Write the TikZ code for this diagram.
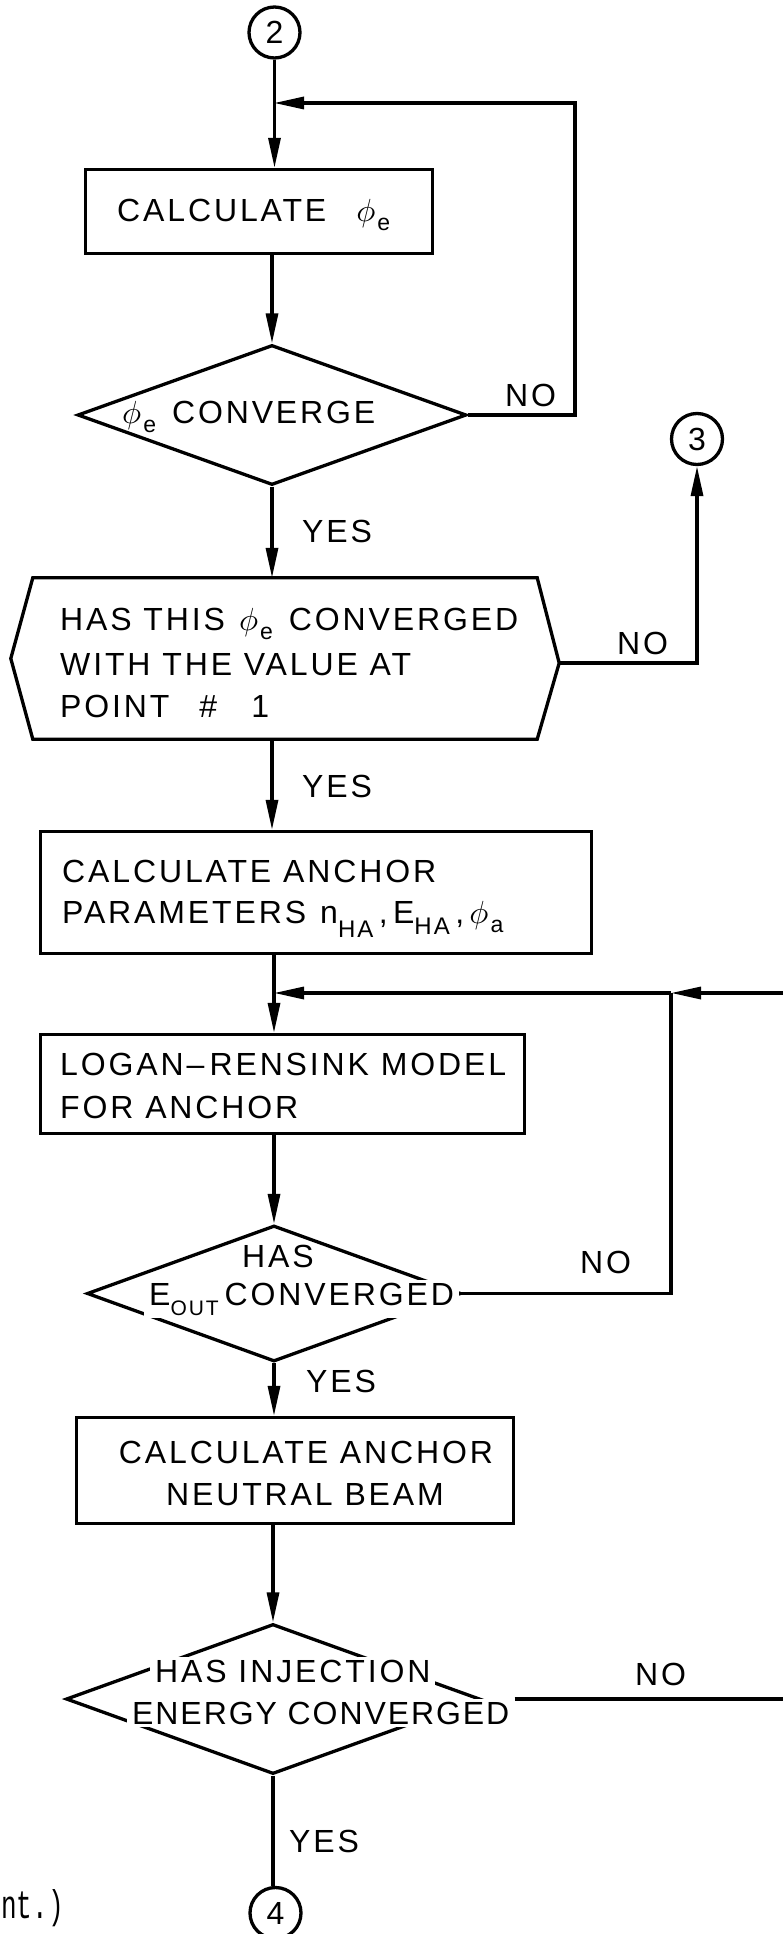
\documentclass[tikz,border=0pt]{standalone}
\usepackage{fontspec}
\usepackage{graphicx}
\setmainfont{Liberation Sans}[LetterSpace=9]
\newfontfamily\notefont{Liberation Mono}
\usetikzlibrary{arrows.meta,shapes.geometric,calc}

% lowered index: text, drop, size
\newcommand{\lowered}[3]{\raisebox{-#2}{\fontsize{#3}{#3}\selectfont #1}}
% phi drawn at the text size, with a small lowered index
\newcommand{\bigphi}{\scalebox{3.2}{\fontsize{10}{12}\selectfont$\phi$}}
\newcommand{\phiidx}[1]{\bigphi\hspace{2pt}\lowered{#1}{9pt}{23pt}}

\tikzset{
  every node/.style={font=\fontsize{32}{40}\selectfont, inner sep=0pt},
  stroke/.style={line width=3.3pt},
  procbox/.style={draw, stroke, rectangle},
  decide/.style={draw, stroke, diamond},
  connector/.style={draw, stroke, circle, minimum size=51pt},
  hold/.style={rectangle, draw=none},
  flow/.style={stroke, -{Triangle[length=30pt,width=12pt]}},
  link/.style={stroke},
  word/.style={anchor=base west},
  cutout/.style={anchor=base west, fill=white, inner xsep=5pt, inner ysep=3pt},
}

\begin{document}
\begin{tikzpicture}[x=1pt,y=-1pt]
\useasboundingbox (0,0) rectangle (783,1934);
\fill[white] (0,0) rectangle (783,1934);

% ---- shapes ----
\node[connector] (c2) at (274.5,32.5) {2};
\coordinate (j1) at (274,103);
\coordinate (r1) at (575,103);

\node[procbox, minimum width=347pt, minimum height=84pt] (b1) at (259,211.5) {};
\node[word] (tb1) at (117,222) {CALCULATE\hspace{30pt}\phiidx{e}};

\node[decide, minimum width=389pt, minimum height=140pt] (d1) at (272,415) {};
\node[word] (td1) at (122,423) {\phiidx{e}\hspace{16pt}CONVERGE};
\node[word] (no1) at (505,406) {NO};

\node[connector] (c3) at (697,439) {3};

\node[word] (yes1) at (302,542) {YES};

\node[hold, minimum width=504pt, minimum height=161pt] (hex) at (285,658.5) {};
\coordinate (hexR) at ([xshift=22pt,yshift=-4.5pt]hex.east);
\draw[stroke] (hex.north west) -- (hex.north east) -- (hexR)
  -- (hex.south east) -- (hex.south west) -- ([xshift=-22pt]hex.west) -- cycle;
\node[word] (th1) at (60,630) {HAS THIS\hspace{14pt}\phiidx{e}\hspace{16pt}CONVERGED};
\node[word] (th2) at (60,675) {WITH THE VALUE AT};
\node[word] (th3) at (60,717) {POINT\hspace{30pt}\#\hspace{34pt}1};
\node[word] (no2) at (617,654) {NO};

\node[word] (yes2) at (302,797) {YES};

\node[procbox, minimum width=551pt, minimum height=122pt] (b2) at (316,892.5) {};
\node[word] (tb2a) at (62,882) {CALCULATE ANCHOR};
\node[word] (tb2b) at (62,923) {PARAMETERS\hspace{14pt}n\lowered{HA}{14pt}{24pt}\,,\,E\lowered{HA}{11pt}{24pt}\,,\,\phiidx{a}};

\coordinate (j2) at (274,993);
\coordinate (r2) at (671,993);
\coordinate (e1) at (783,993);

\node[procbox, minimum width=484pt, minimum height=99pt] (b3) at (282.5,1084) {};
\node[word] (tb3a) at (60,1075) {LOGAN\hspace{3pt}–\hspace{5pt}RENSINK MODEL};
\node[word] (tb3b) at (60,1118) {FOR ANCHOR};

\node[decide, minimum width=374pt, minimum height=136pt] (d2) at (274,1293.5) {};
\node[word] (td2a) at (242,1267) {HAS};
\node[cutout] (td2b) at (144,1305) {E\lowered{OUT}{10pt}{21pt}\hspace{6pt}CONVERGED};
\node[word] (no3) at (580,1273) {NO};

\node[word] (yes3) at (306,1392) {YES};

\node[procbox, minimum width=437pt, minimum height=106pt] (b4) at (295,1470.5) {};
\node[anchor=base] (tb4a) at (306,1463) {CALCULATE ANCHOR};
\node[anchor=base] (tb4b) at (305,1505) {NEUTRAL BEAM};

\node[decide, minimum width=414pt, minimum height=150pt] (d3) at (273,1699) {};
\node[cutout] (td3a) at (150,1682) {HAS INJECTION};
\node[cutout] (td3b) at (127,1724) {\addfontfeature{LetterSpace=6}ENERGY CONVERGED};
\node[word] (no4) at (635,1685) {NO};
\coordinate (e2) at (783,1699);

\node[word] (yes4) at (289,1852) {YES};
\node[connector] (c4) at (275.5,1913) {4};

\node[anchor=base west] (note) at (1,1918)
  {\scalebox{0.65}[1]{\notefont\fontsize{40}{40}\selectfont nt.)}};

% ---- connectors ----
\draw[flow] (c2.south) -- (c2.south |- b1.north);
\draw[flow] (d1.north |- b1.south) -- (d1.north);
\draw[flow] (d1.east) -| (r1) -- (j1);
\draw[flow] (d1.south) -- (d1.south |- hex.north);
\draw[flow] (hexR) -| (c3.south);
\draw[flow] (d1.south |- hex.south) -- (d1.south |- b2.north);
\draw[link] (j2 |- b2.south) -- (j2);
\draw[flow] (j2) -- (j2 |- b3.north);
\draw[flow] (e1) -- (r2);
\draw[flow] (r2) -- (j2);
\draw[link] (td2b.east |- d2.east) -| (r2);
\draw[flow] (d2.north |- b3.south) -- (d2.north);
\draw[flow] (d2.south) -- (d2.south |- b4.north);
\draw[flow] (d3.north |- b4.south) -- (d3.north);
\draw[link] (td3b.east |- d3.east) -- (e2);
\draw[link] (d3.south) -- (d3.south |- c4.north);
\end{tikzpicture}
\end{document}
